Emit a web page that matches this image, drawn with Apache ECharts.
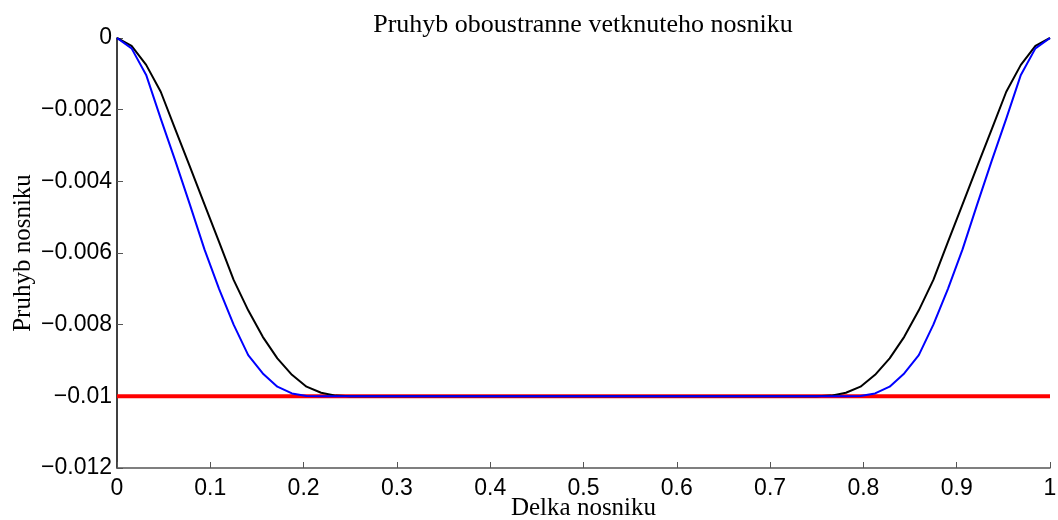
<!DOCTYPE html>
<html>
<head>
<meta charset="utf-8">
<script src="https://cdn.jsdelivr.net/npm/echarts@6/dist/echarts.min.js"></script>
<style>html,body{margin:0;padding:0;background:#fff}#c{width:1058px;height:520px}</style>
</head>
<body>
<div id="c"></div>
<script>
// x positions: 65 samples, step 1/64
var xValues = [
0,0.015625,0.03125,0.046875,0.0625,0.078125,0.09375,0.109375,0.125,0.140625,0.15625,0.171875,0.1875,0.203125,0.21875,0.234375,
0.25,0.265625,0.28125,0.296875,0.3125,0.328125,0.34375,0.359375,0.375,0.390625,0.40625,0.421875,0.4375,0.453125,0.46875,0.484375,
0.5,0.515625,0.53125,0.546875,0.5625,0.578125,0.59375,0.609375,0.625,0.640625,0.65625,0.671875,0.6875,0.703125,0.71875,0.734375,
0.75,0.765625,0.78125,0.796875,0.8125,0.828125,0.84375,0.859375,0.875,0.890625,0.90625,0.921875,0.9375,0.953125,0.96875,0.984375,1
];
var blackValues = [
0,-0.00022,-0.00075,-0.0015,-0.00255,-0.00359,-0.00464,-0.00569,-0.00675,-0.0076,-0.00834,-0.00894,-0.0094,-0.00973,-0.0099,-0.00998,
-0.01,-0.01,-0.01,-0.01,-0.01,-0.01,-0.01,-0.01,-0.01,-0.01,-0.01,-0.01,-0.01,-0.01,-0.01,-0.01,
-0.01,-0.01,-0.01,-0.01,-0.01,-0.01,-0.01,-0.01,-0.01,-0.01,-0.01,-0.01,-0.01,-0.01,-0.01,-0.01,
-0.01,-0.00998,-0.0099,-0.00973,-0.0094,-0.00894,-0.00834,-0.0076,-0.00675,-0.00569,-0.00464,-0.00359,-0.00255,-0.0015,-0.00075,-0.00022,0
];
var blueValues = [
0,-0.00029,-0.00103,-0.00225,-0.00343,-0.00465,-0.0059,-0.007,-0.008,-0.00885,-0.00936,-0.00973,-0.00992,-0.00999,-0.01,-0.01,
-0.01,-0.01,-0.01,-0.01,-0.01,-0.01,-0.01,-0.01,-0.01,-0.01,-0.01,-0.01,-0.01,-0.01,-0.01,-0.01,
-0.01,-0.01,-0.01,-0.01,-0.01,-0.01,-0.01,-0.01,-0.01,-0.01,-0.01,-0.01,-0.01,-0.01,-0.01,-0.01,
-0.01,-0.01,-0.01,-0.00999,-0.00992,-0.00973,-0.00936,-0.00885,-0.008,-0.007,-0.0059,-0.00465,-0.00343,-0.00225,-0.00103,-0.00029,0
];
var redX = [0, 1];
var redValues = [-0.01, -0.01];

function pairs(xs, ys){ return xs.map(function(x,i){ return [x, ys[i]]; }); }
function fmtNum(v){
  var s = String(Math.round(v*1000)/1000);
  return s.replace('-', '\u2212');
}

var chart = echarts.init(document.getElementById('c'));
chart.setOption({
  animation: false,
  title: {
    text: 'Pruhyb oboustranne vetknuteho nosniku',
    left: 578, top: 7, textAlign: 'center',
    textStyle: {fontFamily: 'Liberation Serif', fontWeight: 'normal', fontSize: 26, color: '#000'}
  },
  grid: {left: 117, right: 8, top: 38, bottom: 52, containLabel: false, outerBoundsMode: 'none'},
  xAxis: {
    type: 'value', min: 0, max: 1, interval: 0.1,
    name: 'Delka nosniku', nameLocation: 'middle', nameGap: 28, nameMoveOverlap: false,
    nameTextStyle: {fontFamily: 'Liberation Serif', fontSize: 25, color: '#000'},
    axisLine: {show: true, onZero: false, lineStyle: {color: '#555', width: 1.5}},
    axisTick: {show: true, inside: true, length: 6, lineStyle: {color: '#555'}},
    axisLabel: {fontFamily: 'Liberation Sans', fontSize: 23, color: '#000', margin: 9,
      formatter: function(v){ return fmtNum(v); }},
    splitLine: {show: false}
  },
  yAxis: {
    type: 'value', min: -0.012, max: 0, interval: 0.002,
    name: 'Pruhyb nosniku', nameLocation: 'middle', nameGap: 81, nameRotate: 90, nameMoveOverlap: false,
    nameTextStyle: {fontFamily: 'Liberation Serif', fontSize: 25, color: '#000'},
    axisLine: {show: true, onZero: false, lineStyle: {color: '#000', width: 1.5}},
    axisTick: {show: true, inside: true, length: 6, lineStyle: {color: '#555'}},
    axisLabel: {fontFamily: 'Liberation Sans', fontSize: 23, color: '#000', margin: 5,
      formatter: function(v){ return fmtNum(v); }},
    splitLine: {show: false}
  },
  series: [
    {type: 'line', data: pairs(redX, redValues), symbol: 'none', z: 1,
      lineStyle: {color: '#ff0000', width: 4}},
    {type: 'line', data: pairs(xValues, blackValues), symbol: 'none', z: 2,
      lineStyle: {color: '#000000', width: 2}},
    {type: 'line', data: pairs(xValues, blueValues), symbol: 'none', z: 3,
      lineStyle: {color: '#0000ff', width: 2}}
  ]
});
</script>
</body>
</html>
